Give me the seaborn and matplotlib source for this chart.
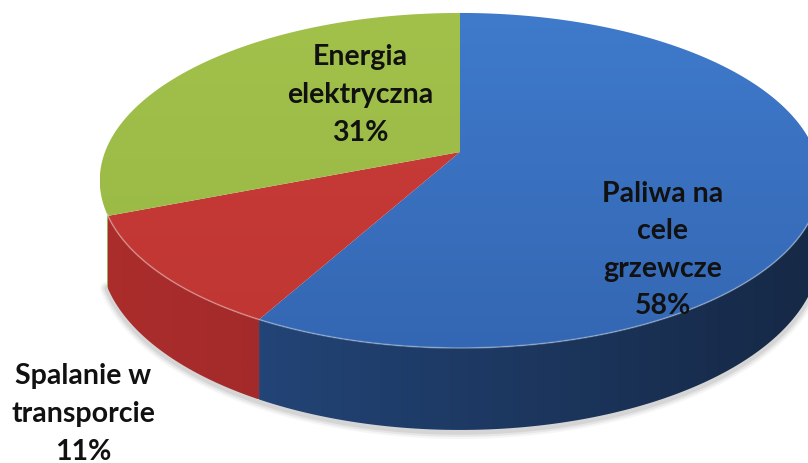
import numpy as np
import matplotlib.pyplot as plt
import seaborn as sns
from matplotlib.patches import Polygon
from matplotlib.colors import LinearSegmentedColormap

# dane wykresu
labels = ["Paliwa na\ncele\ngrzewcze", "Spalanie w\ntransporcie", "Energia\nelektryczna"]
shares = [58, 11, 31]
top_colors = [("#3f7acb", "#3467b3"), ("#ca3c39", "#bf3633"), ("#a2c14b", "#97b744")]
side_colors = [("#264c84", "#162947"), ("#ab2d2c", "#8a2323"), ("#86a33c", "#7a9536")]
label_pos = [(663, 250), (83, 414), (360, 95)]

sns.set_theme(style="white")
plt.rcParams['font.family'] = ['Lato', 'DejaVu Sans']

W, H = 808, 464
cx, cy = 460, 153          # środek (wierzchołek wycinków)
a, b, k = 355, 162.7, 0.17  # półosie i perspektywa
T0 = 68                     # grubość
th_r, th_l = np.radians(100), np.radians(249)  # widoczny zakres boku


def proj(theta):
    s, c = np.sin(theta), np.cos(theta)
    d = 1 + k * c
    return cx + a * s / d, cy - b * c / d, d


def grad_fill(ax, verts, c1, c2, direction, lo, hi, z):
    patch = Polygon(verts, closed=True, facecolor="none", edgecolor="none")
    ax.add_patch(patch)
    cmap = LinearSegmentedColormap.from_list("g", [c1, c2])
    x0, y0 = verts.min(axis=0)
    x1, y1 = verts.max(axis=0)
    n = 256
    if direction == "v":
        yy = np.linspace(y0, y1, n)
        g = np.clip((yy - lo) / (hi - lo), 0, 1)[:, None] * np.ones((1, 2))
    else:
        xx = np.linspace(x0, x1, n)
        g = np.ones((2, 1)) * np.clip((xx - lo) / (hi - lo), 0, 1)[None, :]
    im = ax.imshow(g, extent=(x0, x1, y1, y0), origin="upper", cmap=cmap,
                   vmin=0, vmax=1, aspect="auto", interpolation="bilinear", zorder=z)
    im.set_clip_path(patch)


fig = plt.figure(figsize=(W / 100, H / 100), dpi=100)
ax = fig.add_axes([0, 0, 1, 1])

fr = np.array(shares) / sum(shares)
edges = np.concatenate([[0], np.cumsum(fr)]) * 2 * np.pi

# cień pod spodem
th = np.linspace(th_r, th_l, 200)
xs, ys, ds = proj(th)
for i, w in enumerate([10, 7, 4]):
    ax.plot(xs, ys + T0 / ds + 2, color="#888888", alpha=0.08 + 0.05 * i, lw=w,
            solid_capstyle="round", zorder=1)

# boki
for i in range(len(shares)):
    t0, t1 = max(edges[i], th_r), min(edges[i + 1], th_l)
    if t1 <= t0:
        continue
    th = np.linspace(t0, t1, 150)
    xs, ys, ds = proj(th)
    top = np.column_stack([xs, ys])
    bot = np.column_stack([xs, ys + T0 / ds])[::-1]
    verts = np.vstack([top, bot])
    grad_fill(ax, verts, side_colors[i][0], side_colors[i][1], "h", 100, 800, 2)

# górne powierzchnie
for i in range(len(shares)):
    th = np.linspace(edges[i], edges[i + 1], 200)
    xs, ys, _ = proj(th)
    verts = np.vstack([[cx, cy], np.column_stack([xs, ys])])
    grad_fill(ax, verts, top_colors[i][0], top_colors[i][1], "v", 15, 350, 3)

# jasna krawędź
th = np.linspace(th_r, th_l, 200)
xs, ys, _ = proj(th)
ax.plot(xs, ys, color="white", alpha=0.3, lw=1.2, zorder=4)

# etykiety
for lab, s, (tx, ty) in zip(labels, shares, label_pos):
    ax.text(tx, ty, f"{lab}\n{s}%", ha="center", va="center", fontsize=20.5,
            fontweight="bold", color="#111111", linespacing=1.55, zorder=5)

ax.set_xlim(0, W)
ax.set_ylim(H, 0)
ax.axis("off")
fig.savefig("out.png", dpi=100)
